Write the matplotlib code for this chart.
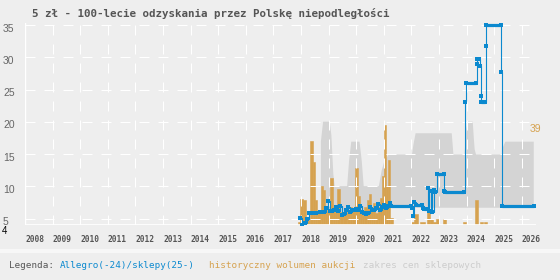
import numpy as np
import matplotlib
matplotlib.use("Agg")
import matplotlib.pyplot as plt
from matplotlib.patches import Rectangle
from matplotlib.transforms import ScaledTranslation

title = "5 zł - 100-lecie odzyskania przez Polskę niepodległości"
year_ticks = list(range(2008, 2027))
price_ticks = [5, 10, 15, 20, 25, 30, 35]

# historic auction volume, dense period (bar edges in decimal years)
vol_edges = [2017.89, 2017.96, 2018.08, 2018.18, 2018.33, 2018.44, 2018.51, 2018.58,
             2018.72, 2018.80, 2018.87, 2018.94, 2019.04, 2019.16, 2019.23, 2019.30,
             2019.41, 2019.53, 2019.66, 2019.78, 2019.85, 2019.96, 2020.07, 2020.14,
             2020.21, 2020.28, 2020.38, 2020.45, 2020.52, 2020.62, 2020.69, 2020.79,
             2020.86, 2020.93, 2021.01, 2021.08, 2021.15, 2021.22, 2021.33]
vol_heights = [1.2, 10.2, 9.8, 2.0, 32.7, 24.8, 9.8, 5.2, 15.4, 13.8, 7.2, 5.2, 18.5,
               7.2, 5.2, 14.0, 5.2, 4.6, 5.9, 7.2, 5.9, 22.4, 11.4, 5.9, 4.6, 7.2,
               9.8, 12.2, 5.9, 8.5, 4.6, 7.2, 10.4, 19.3, 39.0, 15.4, 25.6, 2.6]
# later, sparse volume bars
vol2_start = [2021.99, 2022.09, 2022.31, 2022.57, 2022.67, 2022.78, 2022.89, 2023.14,
              2023.87, 2024.30, 2024.49, 2024.63]
vol2_end = [2022.09, 2022.24, 2022.49, 2022.67, 2022.78, 2022.89, 2023.00, 2023.25,
            2023.98, 2024.41, 2024.59, 2024.74]
vol2_heights = [1.2, 4.3, 1.2, 6.0, 2.5, 1.2, 2.5, 2.5, 1.2, 9.6, 1.2, 1.2]

# shop price range
shop_x = [2018.70, 2018.78, 2019.02, 2019.08, 2019.15, 2019.20, 2019.65, 2019.72,
          2019.80, 2020.10, 2020.18, 2020.25, 2020.80, 2020.90, 2021.00, 2021.15,
          2021.22, 2022.00, 2022.05, 2022.13, 2023.44, 2023.50, 2023.90, 2023.97,
          2024.02, 2024.20, 2024.24, 2024.27, 2024.32, 2025.25, 2025.30, 2025.38,
          2026.41]
shop_hi = [17.0, 20.1, 20.1, 18.0, 12.0, 10.1, 10.1, 14.0, 17.0, 17.0, 14.0, 10.1,
           10.1, 12.5, 14.0, 15.0, 15.0, 15.0, 16.5, 18.3, 18.3, 15.0, 15.0, 19.0,
           20.1, 20.1, 17.5, 15.8, 15.0, 15.0, 16.2, 17.0, 17.0]
shop_lo = [5.0, 5.0, 5.0, 5.0, 5.0, 5.0, 5.0, 5.0, 5.0, 5.0, 5.0, 5.0, 5.0, 5.0,
           5.0, 5.0, 6.75, 6.75, 6.75, 6.75, 6.75, 6.75, 6.75, 6.75, 6.75, 6.75,
           6.75, 6.75, 6.75, 6.75, 6.75, 6.75, 6.75]

# Allegro / shops price
price_x = [2017.96, 2018.04, 2018.14, 2018.22, 2018.29, 2018.40, 2018.55, 2018.70,
           2018.84, 2018.91, 2018.98, 2019.05, 2019.12, 2019.20, 2019.27, 2019.34,
           2019.41, 2019.49, 2019.56, 2019.63, 2019.70, 2019.78, 2019.85, 2019.92,
           2019.99, 2020.07, 2020.14, 2020.21, 2020.28, 2020.36, 2020.43, 2020.50,
           2020.57, 2020.64, 2020.72, 2020.79, 2020.86, 2020.93, 2021.01, 2021.08,
           2021.15, 2021.22, 2021.25, 2021.99, 2022.02, 2022.06, 2022.09, 2022.17,
           2022.38, 2022.42, 2022.46, 2022.57, 2022.60, 2022.64, 2022.71, 2022.75,
           2022.82, 2022.86, 2022.93, 2023.16, 2023.18, 2023.22, 2023.91, 2023.94,
           2023.96, 2024.34, 2024.36, 2024.38, 2024.45, 2024.47, 2024.50, 2024.53,
           2024.67, 2024.69, 2024.70, 2025.23, 2025.25, 2025.27, 2026.44]
price_y = [5.1, 4.0, 4.3, 5.0, 5.9, 5.8, 5.9, 6.0, 6.0, 6.65, 7.7, 6.2, 6.1, 6.3,
           6.8, 6.2, 7.0, 5.6, 5.7, 6.3, 6.8, 6.0, 6.3, 6.3, 6.5, 6.3, 7.0, 6.0,
           5.9, 5.7, 5.9, 6.8, 6.3, 6.3, 6.6, 7.3, 6.3, 6.8, 7.1, 6.6, 7.0, 7.4,
           7.0, 7.0, 6.7, 5.4, 7.5, 7.1, 7.1, 6.6, 6.5, 6.5, 9.8, 6.2, 9.3, 6.0,
           9.5, 9.1, 11.9, 11.9, 9.3, 9.06, 9.06, 23.0, 26.0, 26.0, 28.9, 29.8,
           29.8, 28.6, 24.0, 23.0, 23.0, 31.7, 35.0, 35.0, 27.8, 7.0, 7.0]
# stretches where the price stayed flat (dense samples -> thick line)
flat_start = [2021.25, 2022.17, 2022.46, 2022.93, 2023.22, 2023.96, 2024.38, 2024.53,
              2024.70, 2025.27]
flat_end = [2021.99, 2022.38, 2022.57, 2023.16, 2023.91, 2024.34, 2024.45, 2024.67,
            2025.23, 2026.44]
flat_val = [7.0, 7.1, 6.5, 11.9, 9.06, 26.0, 29.8, 23.0, 35.0, 7.0]

BG = "#eeeeee"
BLUE = "#0b89cf"
ORANGE = "#d6a24f"
GRAY = "#d4d4d4"
W, H = 560, 280

fig = plt.figure(figsize=(W / 100, H / 100), dpi=100, facecolor=BG)
ax = fig.add_axes([25 / W, 55 / H, 511 / W, 202 / H])
ax.set_facecolor(BG)
ax.set_xlim(2008, 2026.51)
ax.set_ylim(4, 35.32)

# gray range of shop prices
ax.fill_between(shop_x, shop_lo, shop_hi, color=GRAY, lw=0, zorder=1)

# volume bars on their own scale
axv = ax.twinx()
axv.set_ylim(0, 79)
axv.axis("off")
edges = np.array(vol_edges)
axv.bar(edges[:-1], vol_heights, width=np.diff(edges), align="edge",
        color=ORANGE, ec=ORANGE, lw=0.4)
axv.bar(vol2_start, vol2_heights, width=np.array(vol2_end) - np.array(vol2_start),
        align="edge", color=ORANGE, ec=ORANGE, lw=0.4)

# grid + price line on top
axt = ax.twinx()
axt.set_ylim(ax.get_ylim())
axt.axis("off")
for y in price_ticks:
    axt.axhline(y, color="white", lw=0.72, ls=(0, (10, 9)), zorder=1)
for yr in year_ticks[1:]:
    axt.axvline(yr, color="white", lw=0.72, ls=(0, (10, 9)), zorder=1)
axt.axvline(2008, color="white", lw=1.0, zorder=1)
axt.axhline(4, color="white", lw=1.2, zorder=1)

axt.plot(price_x, price_y, color=BLUE, lw=0.8, drawstyle="steps-post", zorder=3)
axt.plot(price_x, price_y, ls="none", marker="s", ms=2.2, mew=0, color=BLUE, zorder=3)
axt.hlines(flat_val, flat_start, flat_end, color=BLUE, lw=2.3, zorder=3)

for s in ax.spines.values():
    s.set_visible(False)

ax.set_xticks(year_ticks)
ax.set_xticklabels([str(y) for y in year_ticks], ha="left")
ax.tick_params(axis="x", length=0, pad=7.0, labelsize=5.7, labelcolor="#555555")
for t in ax.get_xticklabels():
    t.set_fontfamily("DejaVu Sans Mono")
    t.set_fontweight("bold")

ax.set_yticks(price_ticks)
ax.set_yticklabels([str(v) for v in price_ticks])
ax.tick_params(axis="y", length=0, pad=15.8, labelsize=7.5, labelcolor="#666666")
lift = ScaledTranslation(0, 1.5 / 100, fig.dpi_scale_trans)
for t in ax.get_yticklabels():
    t.set_fontfamily("Liberation Sans")
    t.set_horizontalalignment("left")
    t.set_verticalalignment("top")
    t.set_transform(t.get_transform() + lift)

# min value marker and max volume label
fig.text(5 / W, 1 - 231 / H, "4", ha="center", va="center", fontsize=7,
         family="Liberation Sans", color="black")
fig.text(530 / W, 1 - 129 / H, str(int(round(max(vol_heights)))), ha="left",
         va="center", fontsize=7.5, family="Liberation Sans", color=ORANGE)

fig.text(32 / W, 1 - 8 / H, title, ha="left", va="top", fontsize=7.8,
         family="DejaVu Sans Mono", fontweight="bold", color="#555555")

# legend strip
fig.add_artist(Rectangle((0, 1 - 253 / H), 1, 4 / H, transform=fig.transFigure,
                         color="#f7f7f7", lw=0, zorder=0))
leg_y = 1 - 261.5 / H
fig.text(9 / W, leg_y, "Legenda:", ha="left", va="top", fontsize=6.7,
         family="DejaVu Sans Mono", color="#555555")
fig.text(60 / W, leg_y, "Allegro(-24)/sklepy(25-)", ha="left", va="top", fontsize=6.7,
         family="DejaVu Sans Mono", color=BLUE)
fig.text(209 / W, leg_y, "historyczny wolumen aukcji", ha="left", va="top", fontsize=6.7,
         family="DejaVu Sans Mono", color=ORANGE)
fig.text(363 / W, leg_y, "zakres cen sklepowych", ha="left", va="top", fontsize=6.7,
         family="DejaVu Sans Mono", color="#cccccc")

fig.savefig("out.png", dpi=100, facecolor=BG)
